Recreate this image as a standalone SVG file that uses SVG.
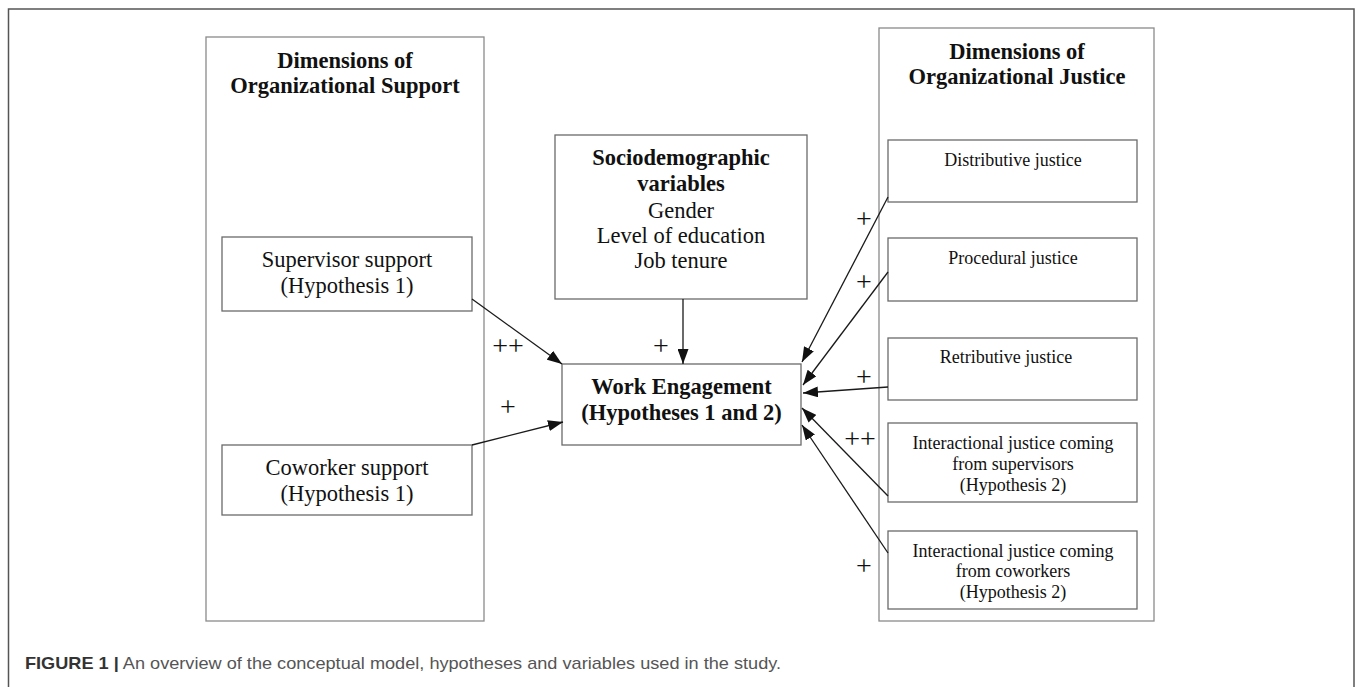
<svg xmlns="http://www.w3.org/2000/svg" width="1358" height="687" viewBox="0 0 1358 687">
<style>
.frame{fill:none;stroke:#555;stroke-width:1.5}
.outer{fill:#fff;stroke:#8a8a8a;stroke-width:1.3}
.box{fill:#fff;stroke:#6a6a6a;stroke-width:1.3}
.hb{font-family:"Liberation Serif","Times New Roman",serif;font-weight:bold;font-size:22.5px;fill:#111;text-anchor:middle}
.t{font-family:"Liberation Serif","Times New Roman",serif;font-size:22.5px;fill:#111;text-anchor:middle}
.s{font-family:"Liberation Serif","Times New Roman",serif;font-size:18px;fill:#111;text-anchor:middle}
.pl{font-family:"Liberation Serif","Times New Roman",serif;font-size:28px;fill:#111;text-anchor:middle}
.c{stroke:#1a1a1a;stroke-width:1.3;fill:none;marker-end:url(#ah)}
.cap{font-family:"Liberation Sans",Arial,sans-serif;font-size:17px;fill:#555}
</style>
<defs>
<marker id="ah" markerUnits="userSpaceOnUse" markerWidth="15" markerHeight="11" refX="15" refY="5.5" orient="auto">
<path d="M0,0 L15,5.5 L0,11 z" fill="#111"/>
</marker>
</defs>
<rect width="1358" height="687" fill="#fff"/>
<rect class="frame" x="8.5" y="9" width="1345.5" height="700"/>

<g id="org-support">
<rect class="outer" x="206" y="37" width="278" height="584"/>
<text class="hb" x="345" y="68">Dimensions of</text>
<text class="hb" x="345" y="93">Organizational Support</text>
</g>
<g id="supervisor-support">
<rect class="box" x="222" y="237" width="250" height="74"/>
<text class="t" x="347" y="267">Supervisor support</text>
<text class="t" x="347" y="293">(Hypothesis 1)</text>
</g>
<g id="coworker-support">
<rect class="box" x="222" y="445" width="250" height="70"/>
<text class="t" x="347" y="475">Coworker support</text>
<text class="t" x="347" y="501">(Hypothesis 1)</text>
</g>

<g id="sociodemographic">
<rect class="box" x="555" y="135" width="252" height="164"/>
<text class="hb" x="681" y="165">Sociodemographic</text>
<text class="hb" x="681" y="191">variables</text>
<text class="t" x="681" y="218">Gender</text>
<text class="t" x="681" y="243">Level of education</text>
<text class="t" x="681" y="268">Job tenure</text>
</g>

<g id="work-engagement">
<rect class="box" x="562" y="364" width="239" height="81"/>
<text class="hb" x="681.5" y="394">Work Engagement</text>
<text class="hb" x="681.5" y="420">(Hypotheses 1 and 2)</text>
</g>

<g id="org-justice">
<rect class="outer" x="879" y="28" width="275" height="593"/>
<text class="hb" x="1017" y="59">Dimensions of</text>
<text class="hb" x="1017" y="84">Organizational Justice</text>
</g>
<g id="distributive">
<rect class="box" x="888" y="140" width="249" height="62"/>
<text class="s" x="1013" y="166">Distributive justice</text>
</g>
<g id="procedural">
<rect class="box" x="888" y="238" width="249" height="63"/>
<text class="s" x="1013" y="264">Procedural justice</text>
</g>
<g id="retributive">
<rect class="box" x="888" y="338" width="249" height="62"/>
<text class="s" x="1006" y="363">Retributive justice</text>
</g>
<g id="interactional-supervisors">
<rect class="box" x="888" y="423" width="249" height="79"/>
<text class="s" x="1013" y="449">Interactional justice coming</text>
<text class="s" x="1013" y="470">from supervisors</text>
<text class="s" x="1013" y="491">(Hypothesis 2)</text>
</g>
<g id="interactional-coworkers">
<rect class="box" x="888" y="531" width="249" height="78"/>
<text class="s" x="1013" y="557">Interactional justice coming</text>
<text class="s" x="1013" y="577">from coworkers</text>
<text class="s" x="1013" y="598">(Hypothesis 2)</text>
</g>

<g id="connectors">
<line class="c" x1="472" y1="299" x2="562" y2="364"/>
<line class="c" x1="472" y1="445" x2="563" y2="422"/>
<line class="c" x1="683" y1="299" x2="683" y2="364"/>
<line class="c" x1="888" y1="197" x2="802" y2="362"/>
<line class="c" x1="888" y1="272" x2="803" y2="385"/>
<line class="c" x1="888" y1="387" x2="803" y2="393"/>
<line class="c" x1="888" y1="496" x2="802" y2="408"/>
<line class="c" x1="888" y1="553" x2="802" y2="425"/>
<text class="pl" x="508" y="355">++</text>
<text class="pl" x="661" y="355">+</text>
<text class="pl" x="508" y="416">+</text>
<text class="pl" x="864" y="228">+</text>
<text class="pl" x="864" y="291">+</text>
<text class="pl" x="864" y="386">+</text>
<text class="pl" x="860" y="448">++</text>
<text class="pl" x="864" y="575">+</text>
</g>

<text class="cap" x="25" y="669" textLength="756" lengthAdjust="spacingAndGlyphs"><tspan font-weight="bold" fill="#333">FIGURE 1</tspan> <tspan font-weight="bold" fill="#333">|</tspan> An overview of the conceptual model, hypotheses and variables used in the study.</text>
</svg>
